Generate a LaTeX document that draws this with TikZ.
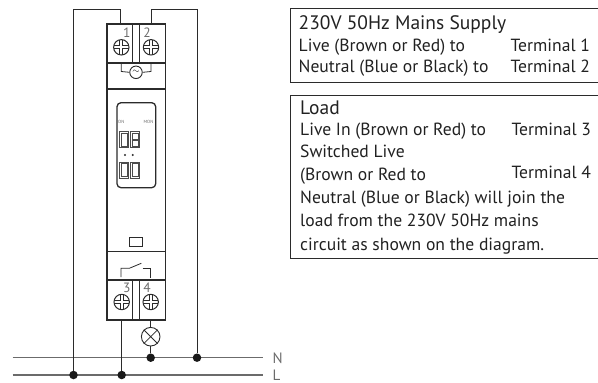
\documentclass[tikz,border=0pt]{standalone}
\usepackage{fontspec}
\setmainfont{PT Sans}
\definecolor{ink}{gray}{0.17}
\definecolor{bus}{gray}{0.42}
\definecolor{txt}{gray}{0.13}
\definecolor{segc}{gray}{0.3}
\tikzset{
  wire/.style={draw=ink,line width=1pt},
  body/.style={draw=ink,line width=1.3pt},
  thin line/.style={draw=ink,line width=0.8pt},
  seg/.style={draw=segc,line width=0.45pt},
  busline/.style={draw=bus,line width=1.5pt},
  junction/.style={circle,fill=black!90,inner sep=0pt,minimum size=8.5pt},
  termlabel/.style={text=bus,font=\fontsize{13.5}{14}\selectfont,inner sep=0pt},
  buslabel/.style={text=bus,font=\fontsize{15}{15}\selectfont,inner sep=0pt,anchor=west},
  small/.style={text=bus,font=\fontsize{4.5}{5}\selectfont,inner sep=0pt},
  line/.style={text=txt,font=\fontsize{17.6}{18}\selectfont,inner sep=0pt,anchor=base west},
  headline/.style={line,font=\fontsize{19.5}{20}\selectfont},
  screw/.pic={
    \draw[thin line,fill=white,line width=1pt] (0,0) circle (7.7);
    \draw[thin line,line width=1pt] (-7.4,-1.6)--(-1.6,-1.6)--(-1.6,-7.4) (1.6,-7.4)--(1.6,-1.6)--(7.4,-1.6)
      (-7.4,1.6)--(-1.6,1.6)--(-1.6,7.4) (1.6,7.4)--(1.6,1.6)--(7.4,1.6);
  },
  zero/.pic={
    \draw[seg] (0,0) rectangle (9.2,16);
    \draw[seg] (1.5,1.5) rectangle (7.7,14.5);
  },
  eight/.pic={
    \draw[seg] (0,0) rectangle (9.2,16);
    \draw[seg] (1.5,1.5) rectangle (7.7,7.3);
    \draw[seg] (1.5,8.7) rectangle (7.7,14.5);
  }
}
\begin{document}
\begin{tikzpicture}[x=1pt,y=-1pt]
\useasboundingbox (0,0) rectangle (598,383);
% coordinates
\coordinate (t1) at (120.5,24);
\coordinate (t2) at (151,24);
\coordinate (t3) at (121.7,320);
\coordinate (t4) at (150.7,320);
\coordinate (lc) at (73.5,9);
\coordinate (rc) at (197,9);
% buses
\coordinate (nw) at (12.7,357.7); \coordinate (ne) at (262.7,357.7);
\coordinate (lw) at (12.7,375);   \coordinate (le) at (262.7,375);
\draw[busline] (nw)--(ne);
\draw[busline] (lw)--(le);
\node[buslabel] (nlabel) at (272.5,358) {N};
\node[buslabel] (llabel) at (272.5,375) {L};
\node[junction] (jl1) at (73.5,375) {};
\node[junction] (jl2) at (121.7,375) {};
\node[junction] (jn1) at (150.7,357.7) {};
\node[junction] (jn2) at (197,357.7) {};
% wires
\draw[wire] (t1)--(120.5,9)--(lc)--(jl1);
\draw[wire] (t2)--(151,9)--(rc)--(jn2);
\draw[wire] (t3)--(jl2);
% module
\draw[body] (107,24) rectangle (165.7,320);
\draw[body] (107,63)--(165.7,63) (107,89)--(165.7,89) (107,251.7)--(165.7,251.7) (107,280)--(165.7,280);
\draw[body,fill=white] (132.7,24) rectangle (139.3,63);
\draw[body,fill=white] (132.7,280) rectangle (139.3,320);
\pic at (121.3,47.3) {screw};
\pic at (151,47.3) {screw};
\pic at (121.7,302) {screw};
\pic at (150.7,302) {screw};
\node[termlabel] (n1) at (126.7,32.5) {1};
\node[termlabel] (n2) at (147,32.5) {2};
\node[termlabel] (n3) at (126.7,288) {3};
\node[termlabel] (n4) at (147,288) {4};
% supply symbol
\node[circle,draw=ink,line width=0.9pt,minimum size=12.5pt,inner sep=0pt,font=\fontsize{9}{9}\selectfont] (ac) at (136,72.3) {$\sim$};
\draw[thin line] (121.3,63)--(121.3,71.5)--(ac.west);
\draw[thin line] (151,63)--(151,71.5)--(ac.east);
% display
\draw[body,rounded corners=4pt] (117,102.7) rectangle (155.7,187.7);
\node[small] (on) at (121.3,121.7) {ON};
\node[small] (mon) at (148.5,121.7) {MON};
\pic at (119.5,131.7) {zero};
\pic at (130.4,131.7) {eight};
\pic at (119.5,162) {zero};
\pic at (130.4,162) {zero};
\fill[ink] (125,155) circle (1.1) (132.7,155) circle (1.1);
\draw[body] (129.3,237.3) rectangle (142.7,246.7);
% switch
\draw[thin line] (121,277)--(121,268.3)--(129.3,268.3)--(141.3,263.3);
\draw[thin line] (142.7,268.3)--(150.7,268.3)--(150.7,277.7);
% lamp
\node[circle,draw=ink,line width=0.9pt,minimum size=18.6pt,inner sep=0pt] (lamp) at (150.7,336.7) {};
\draw[thin line] (lamp.north west)--(lamp.south east) (lamp.north east)--(lamp.south west);
\draw[thin line] (t4)--(lamp.north);
\draw[thin line] (lamp.south)--(jn1);
% boxes
\draw[thin line] (598,8.7)--(290.7,8.7)--(290.7,82.7)--(598,82.7);
\draw[thin line] (598,95)--(290.7,95)--(290.7,258)--(598,258);
% text
\node[headline] (a1) at (298.5,29) {230V 50Hz Mains Supply};
\node[line] (a2) at (298.5,51) {Live (Brown or Red) to};
\node[line] (a3) at (510.5,51) {Terminal 1};
\node[line] (a4) at (298.5,72.5) {Neutral (Blue or Black) to};
\node[line] (a5) at (510.5,72.5) {Terminal 2};
\node[headline] (b1) at (300,114) {Load};
\node[line] (b2) at (300,135) {Live In (Brown or Red) to};
\node[line] (b3) at (511.5,135) {Terminal 3};
\node[line] (b4) at (300,157) {Switched Live};
\node[line] (b5) at (300,180.5) {(Brown or Red to};
\node[line] (b6) at (511.5,178) {Terminal 4};
\node[line] (b7) at (300,203.5) {Neutral (Blue or Black) will join the};
\node[line] (b8) at (300,226.5) {load from the 230V 50Hz mains};
\node[line] (b9) at (300,250) {circuit as shown on the diagram.};
\end{tikzpicture}
\end{document}
